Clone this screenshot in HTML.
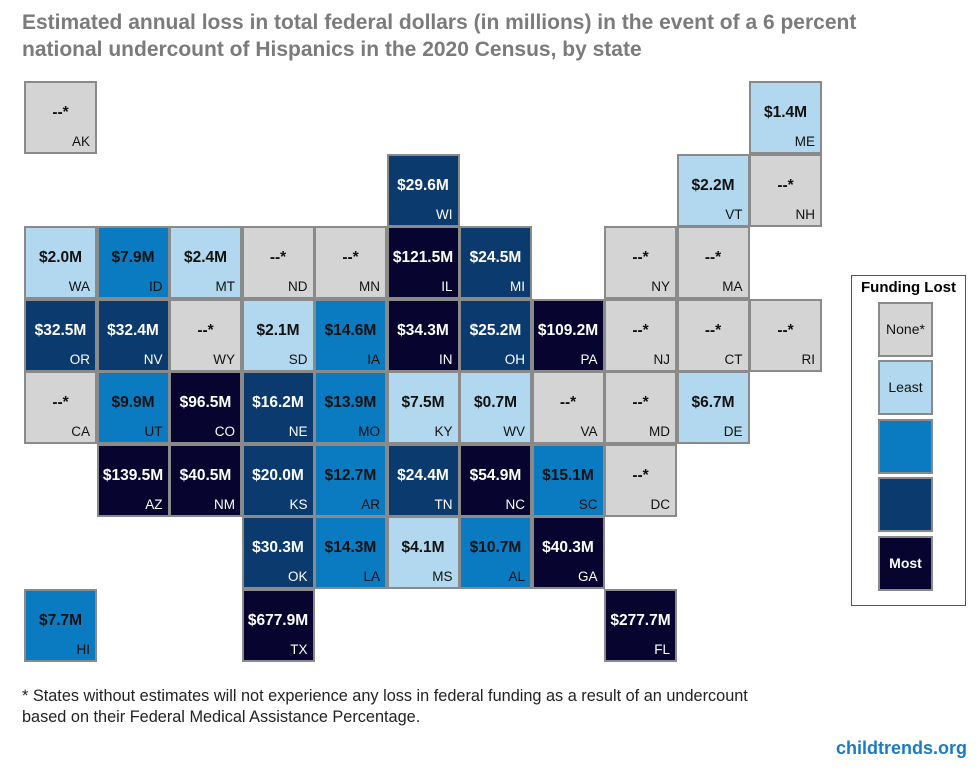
<!DOCTYPE html>
<html><head><meta charset="utf-8"><style>
body{margin:0;background:#fff;font-family:"Liberation Sans",sans-serif;}
#wrap{position:relative;width:979px;height:771px;overflow:hidden;}
.title{position:absolute;left:22px;top:9px;font-size:21px;font-weight:bold;color:#7b7b7b;line-height:27px;}
.tile{position:absolute;width:69px;height:69px;border:2px solid #8a8a8a;box-sizing:content-box;}
.val{position:absolute;left:0;right:0;top:21px;text-align:center;font-weight:bold;font-size:15.5px;}
.ab{position:absolute;right:5px;bottom:3px;font-size:13.5px;}
.foot{position:absolute;left:22px;top:686px;font-size:16.3px;color:#222;line-height:21px;}
.brand{position:absolute;right:12px;top:738px;font-size:18px;font-weight:bold;color:#1b7bc2;}
#legend{position:absolute;left:851px;top:275px;width:113px;height:329px;border:1px solid #555;}
.lt{position:absolute;left:0;right:0;top:3px;text-align:center;font-weight:bold;font-size:15px;}
.sw{position:absolute;left:26px;width:51px;height:51px;border:2px solid #8a8a8a;text-align:center;line-height:51px;font-size:14px;}
</style></head><body>
<div id="wrap">
<div class="title">Estimated annual loss in total federal dollars (in millions) in the event of a 6 percent<br>national undercount of Hispanics in the 2020 Census, by state</div>
<div id="map"></div>
<div id="legend">
<div class="lt">Funding Lost</div>
<div class="sw" style="top:26px;background:#d4d4d4;color:#111">None*</div>
<div class="sw" style="top:84px;background:#b1d8ee;color:#111">Least</div>
<div class="sw" style="top:143px;background:#0a7bc0"></div>
<div class="sw" style="top:201px;background:#0b3a6f"></div>
<div class="sw" style="top:260px;background:#07052f;color:#fff;font-weight:bold">Most</div>
</div>
<div class="foot">* States without estimates will not experience any loss in federal funding as a result of an undercount<br>based on their Federal Medical Assistance Percentage.</div>
<div class="brand">childtrends.org</div>
</div>
<script>
const states=["AK","ME","WI","VT","NH","WA","ID","MT","ND","MN","IL","MI","NY","MA","OR","NV","WY","SD","IA","IN","OH","PA","NJ","CT","RI","CA","UT","CO","NE","MO","KY","WV","VA","MD","DE","AZ","NM","KS","AR","TN","NC","SC","DC","OK","LA","MS","AL","GA","HI","TX","FL"];
const cols=[0,10,5,9,10,0,1,2,3,4,5,6,8,9,0,1,2,3,4,5,6,7,8,9,10,0,1,2,3,4,5,6,7,8,9,1,2,3,4,5,6,7,8,3,4,5,6,7,0,3,8];
const rows=[0,0,1,1,1,2,2,2,2,2,2,2,2,2,3,3,3,3,3,3,3,3,3,3,3,4,4,4,4,4,4,4,4,4,4,5,5,5,5,5,5,5,5,6,6,6,6,6,7,7,7];
const values=[null,1.4,29.6,2.2,null,2.0,7.9,2.4,null,null,121.5,24.5,null,null,32.5,32.4,null,2.1,14.6,34.3,25.2,109.2,null,null,null,null,9.9,96.5,16.2,13.9,7.5,0.7,null,null,6.7,139.5,40.5,20.0,12.7,24.4,54.9,15.1,null,30.3,14.3,4.1,10.7,40.3,7.7,677.9,277.7];
const thresholds=[7.6,16,34];
function colorOf(v){
  if(v===null)return["#d4d4d4","#111"];
  if(v<thresholds[0])return["#b1d8ee","#111"];
  if(v<thresholds[1])return["#0a7bc0","#111"];
  if(v<thresholds[2])return["#0b3a6f","#fff"];
  return["#07052f","#fff"];
}
function xOf(c){return 24+c*72.5;}
function yOf(r){return 81+r*72.5;}
const map=document.getElementById('map');
states.forEach((s,i)=>{
  const t=document.createElement('div');
  t.className='tile';
  
  
  const [bg,fg]=colorOf(values[i]);
  t.style.left=xOf(cols[i])+'px';t.style.top=yOf(rows[i])+'px';
  t.style.background=bg;t.style.color=fg;
  const v=document.createElement('div');v.className='val';
  
  
  v.textContent=values[i]===null?'--*':'$'+values[i].toFixed(1)+'M';
  const a=document.createElement('div');a.className='ab';
  
  
  a.textContent=s;
  t.appendChild(v);t.appendChild(a);map.appendChild(t);
});
</script>
</body></html>
